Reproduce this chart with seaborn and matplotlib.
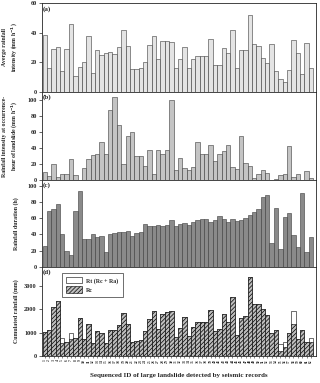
import numpy as np
import pandas as pd
import matplotlib
matplotlib.use('Agg')
import matplotlib.pyplot as plt
from matplotlib.patches import Patch
import seaborn as sns

# Landslide sequence IDs
ids = [str(i) for i in range(1, 63)]

# (a) average rainfall intensity (mm/h)
avg_int = [38.5, 16, 29, 30, 14, 29, 46, 10.5, 17, 20.5, 38, 13, 28, 25, 26.5, 27,
           25.5, 30.5, 42, 31, 15.5, 15.5, 16, 20, 31.5, 37.5, 22, 34.5, 34.5, 33.5,
           16, 22, 30, 16, 22, 24.5, 24.5, 24.5, 35.5, 18, 18, 29.5, 26, 42, 16, 28,
           28, 52, 32.5, 31, 23, 19.5, 32.5, 14, 9, 6.5, 14.5, 35, 26.5, 12, 33, 16]

# (b) rainfall intensity at occurrence hour (mm/h)
occ_int = [10, 5, 20, 4, 7, 7, 26, 6, 0, 15, 26, 31, 32, 48, 32, 88, 104, 69, 20, 55,
           60, 30, 30, 18, 38, 7, 38, 33, 37, 100, 12, 28, 15, 12, 16, 47, 32, 32, 44,
           24, 32, 36, 44, 16, 14, 55, 21, 18, 2, 7, 12, 9, 0, 1, 6, 7, 42, 4, 7, 0, 11, 3]

# (c) rainfall duration (h)
duration = [26, 69, 71, 78, 41, 20, 15, 69, 94, 35, 35, 41, 37, 38, 18, 40, 42, 43, 43,
            44, 38, 42, 43, 53, 50, 50, 52, 51, 52, 58, 51, 53, 54, 52, 55, 58, 59, 59,
            55, 58, 63, 59, 55, 59, 56, 58, 60, 64, 68, 71, 86, 89, 29, 73, 22, 61, 67,
            39, 25, 91, 18, 37]

# (d) cumulated rainfall (mm)
rc = [1030, 1110, 2070, 2360, 570, 610, 710, 760, 1610, 730, 1370, 540, 1070, 970, 540,
      1110, 1090, 1330, 1830, 1370, 610, 660, 690, 1070, 1600, 1900, 1140, 1800, 1860,
      1940, 830, 1190, 1660, 860, 1230, 1440, 1470, 1470, 1960, 1070, 1170, 1790, 1440,
      2500, 890, 1610, 1700, 3370, 2210, 2210, 2000, 1730, 970, 1090, 200, 400, 1000,
      1370, 710, 1110, 610, 590]
rt = list(rc)
rt[4] = 760
rt[6] = 1000
rt[54] = 510
rt[55] = 590
rt[57] = 1910
rt[61] = 760

sns.set_style('ticks')
plt.rcParams['font.family'] = ['Liberation Serif', 'DejaVu Serif']
plt.rcParams['font.weight'] = 'bold'
plt.rcParams['hatch.linewidth'] = 0.5
plt.rcParams['axes.linewidth'] = 0.6

df = pd.DataFrame({'id': ids, 'avg': avg_int, 'occ': occ_int, 'dur': duration,
                   'rc': rc, 'rt': rt})

fig = plt.figure(figsize=(3.2, 3.83), dpi=100)
L, W = 0.13, 0.858
ax1 = fig.add_axes([L, 0.760, W, 0.232])
ax2 = fig.add_axes([L, 0.530, W, 0.230])
ax3 = fig.add_axes([L, 0.303, W, 0.227])
ax4 = fig.add_axes([L, 0.0705, W, 0.2325])

ec = '#3a3a3a'
lw = 0.4
sns.barplot(data=df, x='id', y='avg', color='#e4e4e4', edgecolor=ec, linewidth=lw,
            width=1.0, errorbar=None, saturation=1, ax=ax1)
sns.barplot(data=df, x='id', y='occ', color='#c4c4c4', edgecolor=ec, linewidth=lw,
            width=1.0, errorbar=None, saturation=1, ax=ax2)
sns.barplot(data=df, x='id', y='dur', color='#8a8a8a', edgecolor=ec, linewidth=lw,
            width=1.0, errorbar=None, saturation=1, ax=ax3)
sns.barplot(data=df, x='id', y='rt', color='white', edgecolor='black', linewidth=lw,
            width=1.0, errorbar=None, saturation=1, ax=ax4)
sns.barplot(data=df, x='id', y='rc', color='#bdbdbd', edgecolor='black', linewidth=lw,
            width=1.0, errorbar=None, saturation=1, hatch='////////', ax=ax4)

ax1.set_ylim(0, 60)
ax1.set_yticks([0, 20, 40, 60])
ax2.set_ylim(0, 110)
ax2.set_yticks([0, 20, 40, 60, 80, 100])
ax3.set_ylim(0, 107)
ax3.set_yticks([0, 20, 40, 60, 80, 100])
ax4.set_ylim(0, 3800)
ax4.set_yticks([0, 1000, 2000, 3000])

ylabels = ['Averge rainfall\nintensity (mm h$^{\\mathbf{-1}}$)',
           'Rainfall intensity at occurrence-\nhour of landslide (mm h$^{\\mathbf{-1}}$)',
           'Rainfall duration (h)',
           'Cumulated rainfall (mm)']
letters = ['(a)', '(b)', '(c)', '(d)']
for ax, lab, let in zip([ax1, ax2, ax3, ax4], ylabels, letters):
    ax.set_xlim(-0.75, 62.2)
    ax.set_ylabel(lab, fontsize=4.2, fontweight='bold', linespacing=1.35)
    ax.yaxis.set_label_coords(-0.082, 0.5)
    ax.set_xlabel('')
    ax.tick_params(axis='y', labelsize=4.5, length=2, width=0.5, pad=1.5)
    ax.tick_params(axis='x', length=1.5, width=0.4, pad=1)
    for s in ['top', 'right', 'left', 'bottom']:
        ax.spines[s].set_visible(True)
        ax.spines[s].set_linewidth(0.6)
    ax.text(0.004, 0.97, let, transform=ax.transAxes, va='top', ha='left',
            fontsize=5, fontweight='bold')
    if ax is not ax4:
        ax.set_xticklabels([])

ax4.tick_params(axis='x', labelsize=2.6, rotation=90)
ax4.set_xlabel('Sequenced ID of large landslide detected by seismic records',
               fontsize=5, fontweight='bold', labelpad=7)

handles = [Patch(facecolor='white', edgecolor='black', linewidth=0.4, label='Rt (Rc + Ra)'),
           Patch(facecolor='#bdbdbd', edgecolor='black', linewidth=0.4, hatch='////////',
                 label='Rc')]
leg = ax4.legend(handles=handles, loc='upper left', bbox_to_anchor=(0.065, 0.965),
                 fontsize=4.2, frameon=True, fancybox=False, edgecolor='black',
                 handlelength=2.6, handleheight=1.3, borderpad=0.7, labelspacing=0.5)
leg.get_frame().set_linewidth(0.5)

fig.savefig('out.png', dpi=100)
